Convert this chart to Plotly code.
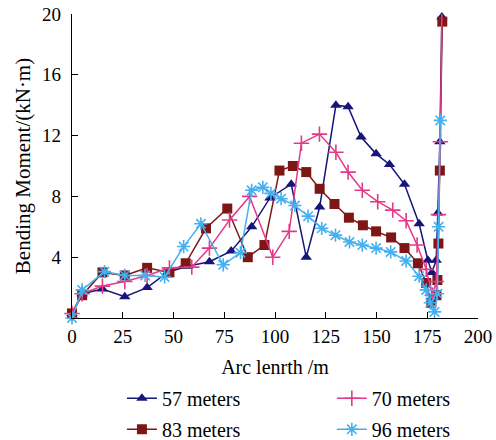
import plotly.graph_objects as go

# ---- data ----
x57 = [0, 5, 15, 26, 37, 47, 57, 67.7, 78.4, 88.5, 97.5, 108, 115.4, 122, 130, 136,
       142.4, 149.8, 156.4, 163.8, 171, 175.3, 177.3, 179.4, 180.2, 181.2, 182.2]
y57 = [0.3, 1.6, 1.9, 1.4, 2.0, 3.0, 3.4, 3.7, 4.4, 6.0, 7.9, 8.8, 4.0, 7.3, 14.0, 13.9,
       11.9, 10.8, 10.1, 8.8, 6.2, 3.8, 3.0, 3.8, 6.9, 11.6, 19.8]

x70 = [0, 5, 15, 26, 37, 48, 59, 67.7, 77.6, 87.5, 98.9, 107, 113, 121.9, 130, 136,
       143, 150.6, 158, 164.6, 170, 174.5, 177.5, 179.5, 180.5, 181.5, 182.2]
y70 = [0.3, 1.6, 2.1, 2.4, 2.8, 3.3, 3.35, 4.6, 6.45, 8.0, 4.0, 5.7, 11.5, 12.1, 10.9, 9.6,
       8.4, 7.65, 7.1, 6.4, 4.8, 3.2, 1.5, 2.4, 6.8, 11.6, 20.2]

x83 = [0, 5, 15, 26, 37, 48, 56, 66, 76.5, 86.6, 94.8, 102.2, 108.8, 115.4, 122, 129.3,
       136.4, 143.3, 149.8, 157.2, 163.8, 170.4, 174.5, 177, 179.5, 180, 180.5, 181.2, 182.4]
y83 = [0.3, 1.5, 3.0, 2.8, 3.3, 3.0, 3.6, 5.9, 7.2, 4.0, 4.8, 9.7, 10.0, 9.6, 8.5, 7.5,
       6.6, 6.1, 5.7, 5.3, 4.6, 3.6, 2.3, 1.0, 1.5, 2.5, 4.9, 9.7, 19.5]

x96 = [0, 5, 16, 26, 36, 45.6, 55, 63.5, 74.5, 83, 88.5, 94, 98, 103, 109.8, 116.3, 123,
       129.8, 136.7, 143, 149.8, 157, 164.6, 171, 174.5, 176.5, 178.6, 180, 180.6, 181.4]
y96 = [0.0, 1.85, 3.05, 2.8, 2.8, 2.7, 4.7, 6.2, 3.5, 4.3, 8.4, 8.6, 8.2, 7.85, 7.4, 6.7,
       5.9, 5.45, 5.0, 4.8, 4.6, 4.35, 3.75, 2.75, 1.85, 1.0, 0.4, 1.6, 6.0, 13.0]

series_names = ["57 meters", "70 meters", "83 meters", "96 meters"]
x_ticks = [0, 25, 50, 75, 100, 125, 150, 175, 200]
y_ticks = [4, 8, 12, 16, 20]

FONT = "Liberation Serif"

fig = go.Figure()

def add(x, y, name, color, symbol, size, legend, group, open_sym=False):
    marker = dict(symbol=symbol, size=size, color=color)
    if open_sym:
        marker["line"] = dict(color=color, width=1.6)
    fig.add_trace(go.Scatter(
        x=x, y=y, name=name, mode="lines+markers",
        line=dict(color=color, width=1.5),
        marker=marker, legend=legend, legendgroup=group, cliponaxis=False,
    ))

add(x57, y57, series_names[0], "#15157a", "triangle-up", 10, "legend", "a")
add(x83, y83, series_names[2], "#7e1616", "square", 10, "legend", "b")
add(x70, y70, series_names[1], "#e33a88", "cross-thin-open", 11, "legend2", "c", True)
add(x96, y96, series_names[3], "#45b0f0", "asterisk-open", 11, "legend2", "d", True)

axis_common = dict(
    showline=True, linecolor="black", linewidth=1.2,
    ticks="inside", ticklen=6, tickcolor="black", tickwidth=1.2,
    showgrid=False, zeroline=False, mirror=False, automargin=False,
    tickfont=dict(family=FONT, size=19, color="black"),
)

legend_common = dict(xanchor="left", yanchor="top",
                     orientation="v", traceorder="grouped", tracegroupgap=2,
                     font=dict(family=FONT, size=20, color="black"),
                     bgcolor="rgba(0,0,0,0)")

fig.update_layout(
    width=496, height=440,
    margin=dict(l=72, r=18, t=14, b=122, autoexpand=False),
    paper_bgcolor="white", plot_bgcolor="white",
    font=dict(family=FONT, color="black"),
    xaxis=dict(range=[0, 200], tickvals=x_ticks, ticklabelstandoff=1,
               title=dict(text="Arc lenrth /m", font=dict(family=FONT, size=20), standoff=14),
               **axis_common),
    yaxis=dict(range=[0, 20], tickvals=y_ticks, ticklabelstandoff=6,
               title=dict(text="Bending Moment/(kN·m)", font=dict(family=FONT, size=21), standoff=5),
               **axis_common),
    legend=dict(x=0.123, y=-0.2, **legend_common),
    legend2=dict(x=0.640, y=-0.2, **legend_common),
    showlegend=True,
)

fig.write_html("out.html", config={"displayModeBar": False},
               post_script="document.body.style.margin='0';document.body.style.padding='0';")
